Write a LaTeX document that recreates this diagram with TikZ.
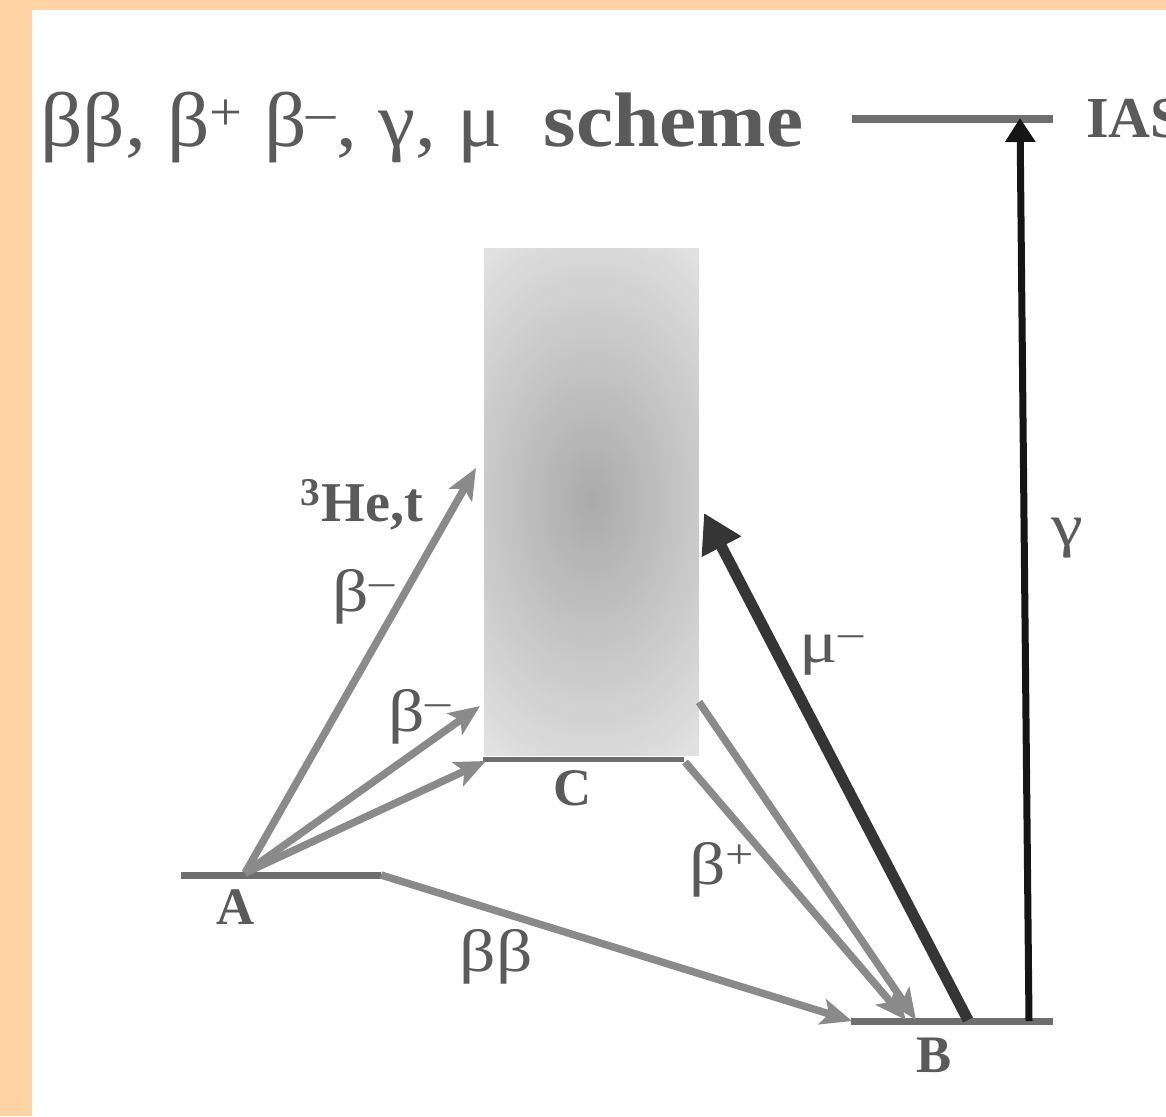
\documentclass[tikz,border=0pt]{standalone}
\usepackage{fontspec}
\setmainfont{Liberation Serif}
\usetikzlibrary{arrows.meta}
\definecolor{peach}{HTML}{FFD3A3}
\definecolor{txt}{HTML}{5A5A5A}
\definecolor{lvl}{HTML}{6E6E6E}
\definecolor{arr}{HTML}{8A8A8A}
\definecolor{mucol}{HTML}{353535}
\definecolor{gamcol}{HTML}{151515}
\newcommand\widen[1]{\scalebox{1.2}[1]{#1}}
\tikzset{
  level/.style={draw=lvl, line width=0.14cm},
  garrow/.style={draw=arr, line width=0.15cm, -{Stealth[length=0.62cm,width=0.52cm,inset=0.14cm]}},
  muarrow/.style={draw=mucol, line width=0.22cm, -{Triangle[length=0.76cm,width=0.84cm]}},
  gamarrow/.style={draw=gamcol, line width=0.14cm, -{Triangle[length=0.48cm,width=0.58cm]}},
  lab/.style={text=txt, inner sep=0pt, font=\fontsize{34}{38}\selectfont},
  blab/.style={text=txt, inner sep=0pt, font=\fontsize{30}{32}\selectfont\bfseries},
}
\begin{document}
\begin{tikzpicture}[x=0.02cm, y=-0.02cm]
\useasboundingbox (0,0) rectangle (1166,1116);
\fill[peach] (0,0) rectangle (1166,1116);
\fill[white] (32,10) rectangle (1166,1116);
% shaded box
\node[inner sep=0pt, minimum width=4.26cm, minimum height=10.12cm] (box) at (591.5,502) {};
\begin{scope}
\clip (box.north west) rectangle (box.south east);
\foreach \r in {222,219,...,3} {
  \pgfmathsetmacro\gv{min(1,(170+56*(\r/191))/255)}
  \definecolor{ringcol}{gray}{\gv}
  \fill[ringcol] (592,500) ellipse [x radius=\r, y radius=1.6*\r];
}
\end{scope}
% title
\node[anchor=base west, text=txt, inner sep=0pt, font=\fontsize{44}{48}\selectfont] (title) at (40,146)
  {\scalebox{1.08}[1]{ββ, β\textsuperscript{+} β\textsuperscript{–}, γ, μ\ \ \textbf{scheme}}};
% levels
\coordinate (I1) at (852,119); \coordinate (I2) at (1053,119);
\coordinate (A1) at (181,875); \coordinate (A2) at (381,875);
\coordinate (C1) at (483,759); \coordinate (C2) at (684,759);
\coordinate (B1) at (851,1021); \coordinate (B2) at (1053,1021);
\draw[level, line width=0.16cm] (I1) -- (I2);
\draw[level] (A1) -- (A2);
\draw[level, line width=0.1cm] (C1) -- (C2);
\draw[level] (B1) -- (B2);
% arrow points
\coordinate (Ao) at (245,873);
\coordinate (t1) at (476,468);
\coordinate (t2) at (480,706);
\coordinate (t3) at (486,761);
\coordinate (bbT) at (852,1021);
\coordinate (p1s) at (685,762); \coordinate (p1T) at (906,1020);
\coordinate (p2s) at (699,702); \coordinate (p2T) at (916,1020);
\coordinate (muS) at (968,1020); \coordinate (muT) at (704,513);
\coordinate (gS) at (1029,1021); \coordinate (gT) at (1020,118);
\draw[garrow] (Ao) -- (t1);
\draw[garrow] (Ao) -- (t2);
\draw[garrow] (Ao) -- (t3);
\draw[garrow] (A2) -- (bbT);
\draw[garrow] (p1s) -- (p1T);
\draw[garrow] (p2s) -- (p2T);
\draw[muarrow] (muS) -- (muT);
\draw[gamarrow] (gS) -- (gT);
% labels
\node[blab, font=\fontsize{33}{35}\selectfont\bfseries, anchor=west] (ias) at (1086,119) {IAS};
\node[blab, font=\fontsize{32}{34}\selectfont\bfseries] (he) at (362,505) {\textsuperscript{3}He,t};
\node[lab] (bm1) at (364,597) {\widen{β\textsuperscript{–}}};
\node[lab] (bm2) at (420,717) {\widen{β\textsuperscript{–}}};
\node[lab] (mum) at (832,655) {\widen{μ\textsuperscript{–}}};
\node[lab] (gam) at (1067,538) {\widen{γ}};
\node[lab] (bp) at (722,870) {\widen{β\textsuperscript{+}}};
\node[lab] (bb) at (496,957) {\widen{ββ}};
\node[blab] (la) at (236,907) {A};
\node[blab] (lc) at (573,788) {C};
\node[blab] (lb) at (934,1055) {B};
\end{tikzpicture}
\end{document}
